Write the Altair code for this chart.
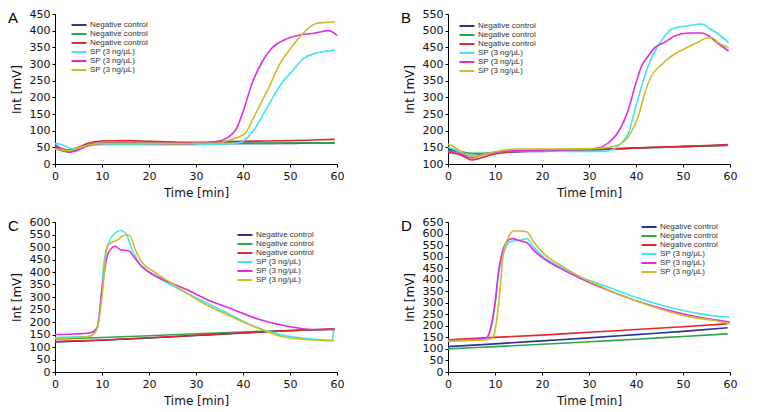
import altair as alt
import pandas as pd

# ---------------- data ----------------
SERIES_IDS = ["neg1", "neg2", "neg3", "sp1", "sp2", "sp3"]
SERIES_COLORS = ["#2e3192", "#2ca84a", "#e0282e", "#3fe6ee", "#e02ce0", "#c9bf2a"]
X_TICKS = [0, 10, 20, 30, 40, 50, 60]

# Panel A
A_CTRL_T = [0, 1.5, 3, 5, 7, 10, 15, 20, 25, 30, 35, 40, 45, 50, 55, 59.5]
A_NEG1_V = [55, 45, 40, 48, 58, 63, 64, 62, 61, 62, 62, 62, 62, 62, 63, 63]
A_NEG2_V = [45, 40, 36, 46, 56, 61, 62, 61, 61, 61, 62, 62, 62, 63, 63, 64]
A_NEG3_V = [50, 45, 42, 50, 62, 69, 70, 68, 66, 65, 67, 68, 69, 70, 72, 74]
A_SP1_T = [0, 1.5, 2.5, 3.5, 5, 7, 10, 15, 20, 25, 30, 35, 38, 39.6, 41, 42.5, 45.4, 48.2, 50.4, 52.9, 55.4, 57.5, 59.6]
A_SP1_V = [62, 58, 52, 45, 48, 55, 58, 58, 58, 57, 58, 60, 62, 65, 80, 106, 176, 242, 277, 317, 332, 338, 342]
A_SP2_T = [0, 1.5, 3, 5, 7, 10, 15, 20, 25, 30, 33, 34.6, 36.8, 38.6, 40, 41.8, 44.3, 46.1, 48.9, 51.8, 55.4, 58.2, 60]
A_SP2_V = [58, 45, 35, 42, 55, 62, 63, 62, 61, 62, 64, 68, 80, 106, 156, 237, 312, 347, 373, 386, 393, 400, 386]
A_SP3_T = [0, 1.5, 3, 5, 7, 10, 15, 20, 25, 30, 35, 36.2, 38.5, 40.4, 42.5, 45.4, 47.9, 50.4, 52.5, 55.4, 57.5, 59.6]
A_SP3_V = [45, 42, 40, 48, 57, 62, 62, 62, 61, 62, 63, 68, 78, 91, 146, 227, 302, 352, 388, 421, 425, 426]

# Panel B
B_CTRL_T = [0, 2, 3.5, 5, 7, 10, 15, 20, 25, 30, 35, 40, 45, 50, 55, 59.5]
B_NEG1_V = [145, 138, 130, 125, 128, 133, 137, 138, 140, 142, 145, 148, 150, 152, 154, 156]
B_NEG2_V = [140, 137, 135, 132, 132, 135, 138, 140, 141, 143, 145, 148, 150, 152, 154, 157]
B_NEG3_V = [135, 130, 122, 112, 118, 130, 138, 140, 141, 143, 145, 148, 151, 153, 155, 158]
B_SP1_T = [0, 2, 4, 6, 8, 10, 15, 20, 25, 30, 33, 35, 36.9, 38.4, 39.8, 41.2, 42.6, 44.7, 46.2, 47.6, 51.1, 54, 55.8, 57.5, 59.7]
B_SP1_V = [150, 140, 128, 125, 130, 135, 140, 140, 138, 138, 138, 143, 163, 193, 264, 334, 394, 454, 485, 505, 515, 520, 505, 490, 464]
B_SP2_T = [0, 2, 3.5, 5, 7, 10, 15, 20, 25, 30, 32, 34.1, 36.9, 38.4, 39.8, 41.2, 42.6, 44, 46.2, 48.3, 51.1, 54, 55.4, 56.8, 58.2, 59.7]
B_SP2_V = [138, 132, 125, 118, 125, 135, 140, 142, 143, 145, 148, 163, 213, 264, 334, 394, 424, 449, 466, 485, 493, 493, 485, 469, 454, 439]
B_SP3_T = [0, 2, 4, 6, 8, 10, 15, 20, 25, 30, 33, 35.5, 38.4, 40.5, 41.9, 43.3, 45.5, 47.6, 50.4, 53.3, 55.1, 56.2, 57.5, 59.7]
B_SP3_V = [160, 145, 128, 122, 128, 137, 145, 145, 145, 146, 148, 153, 183, 244, 314, 364, 399, 424, 446, 466, 478, 478, 464, 449]

# Panel C
C_CTRL_T = [0, 10, 20, 30, 40, 50, 59.5]
C_NEG1_V = [120, 127, 136, 146, 156, 165, 172]
C_NEG2_V = [132, 138, 145, 153, 160, 166, 170]
C_NEG3_V = [122, 128, 137, 147, 157, 166, 172]
C_SP1_T = [0, 4, 7, 8, 9, 9.7, 10.4, 11.4, 12.8, 13.9, 15, 16.4, 18.1, 20.9, 25.2, 30.8, 36.5, 42.1, 47.8, 52, 56.2, 59, 59.3]
C_SP1_V = [138, 140, 142, 150, 183, 277, 436, 516, 556, 566, 556, 489, 430, 390, 343, 290, 237, 184, 150, 137, 130, 128, 170]
C_SP2_T = [0, 4, 7, 8, 9, 10, 11.1, 12.1, 12.8, 13.9, 15.7, 16.7, 18.1, 20.3, 23.8, 28, 32.3, 37.9, 43.5, 49.2, 54.8, 59.4]
C_SP2_V = [150, 152, 155, 160, 177, 330, 463, 496, 503, 489, 485, 463, 430, 396, 363, 330, 290, 250, 210, 184, 170, 170]
C_SP3_T = [0, 4, 7, 8, 9, 10, 11.1, 12.1, 13.2, 14.3, 15.3, 16, 17.1, 18.5, 20.9, 25.2, 30.8, 36.5, 42.1, 47.8, 53.4, 59.4]
C_SP3_V = [132, 138, 142, 148, 175, 300, 503, 519, 527, 543, 549, 543, 489, 439, 403, 350, 283, 230, 184, 144, 130, 124]

# Panel D
D_CTRL_T = [0, 10, 20, 30, 40, 50, 59.5]
D_NEG1_V = [110, 122, 135, 148, 162, 176, 192]
D_NEG2_V = [100, 110, 120, 131, 142, 154, 165]
D_NEG3_V = [140, 150, 160, 172, 184, 196, 209]
D_SP1_T = [0, 4, 8, 9, 10, 10.8, 11.8, 13.2, 15.4, 16.8, 18.2, 20.3, 23.9, 28.1, 33.8, 39.4, 45.1, 50.8, 56.4, 59.8]
D_SP1_V = [133, 138, 143, 180, 290, 430, 514, 564, 571, 578, 542, 499, 456, 413, 370, 327, 291, 263, 244, 238]
D_SP2_T = [0, 4, 8, 9, 10, 10.8, 11.5, 12.5, 13.6, 15.4, 16.8, 18.2, 20.3, 23.9, 28.1, 33.8, 39.4, 45.1, 50.8, 56.4, 60]
D_SP2_V = [138, 140, 145, 184, 298, 442, 514, 564, 578, 568, 560, 528, 492, 449, 406, 356, 313, 277, 248, 227, 217]
D_SP3_T = [0, 4, 8, 9, 9.7, 10.8, 11.8, 12.9, 14, 15.4, 16.8, 18.2, 20.3, 23.9, 28.1, 33.8, 39.4, 45.1, 50.8, 56.4, 60]
D_SP3_V = [133, 136, 140, 143, 155, 298, 514, 585, 611, 611, 607, 564, 514, 463, 413, 359, 313, 273, 241, 224, 209]

PANELS = [
    ("A", 0, 450, [(A_CTRL_T, A_NEG1_V), (A_CTRL_T, A_NEG2_V), (A_CTRL_T, A_NEG3_V),
                   (A_SP1_T, A_SP1_V), (A_SP2_T, A_SP2_V), (A_SP3_T, A_SP3_V)], (20, 7)),
    ("B", 100, 550, [(B_CTRL_T, B_NEG1_V), (B_CTRL_T, B_NEG2_V), (B_CTRL_T, B_NEG3_V),
                     (B_SP1_T, B_SP1_V), (B_SP2_T, B_SP2_V), (B_SP3_T, B_SP3_V)], (15, 8)),
    ("C", 0, 600, [(C_CTRL_T, C_NEG1_V), (C_CTRL_T, C_NEG2_V), (C_CTRL_T, C_NEG3_V),
                   (C_SP1_T, C_SP1_V), (C_SP2_T, C_SP2_V), (C_SP3_T, C_SP3_V)], (186, 9)),
    ("D", 0, 650, [(D_CTRL_T, D_NEG1_V), (D_CTRL_T, D_NEG2_V), (D_CTRL_T, D_NEG3_V),
                   (D_SP1_T, D_SP1_V), (D_SP2_T, D_SP2_V), (D_SP3_T, D_SP3_V)], (197, 1)),
]

FONT = "DejaVu Sans"
LEG_FONT = "Liberation Sans"
W, H = 282, 150


def panel(letter, ymin, ymax, series, legpos):
    rows = []
    for sid, (ts, vs) in zip(SERIES_IDS, series):
        for t, v in zip(ts, vs):
            rows.append({"t": t, "v": v, "s": sid})
    df = pd.DataFrame(rows)
    lines = alt.Chart(df).mark_line(strokeWidth=1.6, interpolate="monotone").encode(
        x=alt.X("t:Q", scale=alt.Scale(domain=[0, 60], nice=False),
                axis=alt.Axis(values=X_TICKS, title="Time [min]", grid=False,
                              tickSize=3, labelPadding=3, titlePadding=6,
                              labelFlush=False, labelOverlap=False,
                              domainColor="black", tickColor="black")),
        y=alt.Y("v:Q", scale=alt.Scale(domain=[ymin, ymax], nice=False, zero=False),
                axis=alt.Axis(values=list(range(ymin, ymax + 1, 50)), title="Int [mV]",
                              grid=False, tickSize=3, labelPadding=2, titlePadding=6,
                              labelFlush=False, labelOverlap=False,
                              domainColor="black", tickColor="black")),
        color=alt.Color("s:N", scale=alt.Scale(domain=SERIES_IDS, range=SERIES_COLORS),
                        legend=alt.Legend(
                            title=None, orient="none", legendX=legpos[0], legendY=legpos[1],
                            symbolType="M-2.5,0L2.5,0", symbolSize=36, symbolStrokeWidth=2,
                            labelFontSize=8, labelColor="#333333", labelFont=LEG_FONT,
                            rowPadding=1, labelOffset=7, padding=0,
                            labelExpr="indexof(datum.label, 'neg') >= 0 ? 'Negative control' : 'SP (3 ng/\u00b5L)'")),
    )
    tag = alt.Chart(alt.Data(values=[{"p": letter}])).mark_text(
        align="left", baseline="alphabetic", fontSize=15, font="Liberation Sans", color="black"
    ).encode(text="p:N", x=alt.value(-47), y=alt.value(9))
    return alt.layer(lines, tag).properties(width=W, height=H)


charts = [panel(*p) for p in PANELS]

chart = alt.concat(*charts, columns=2, spacing={"row": 58, "column": 111}, bounds="flush").resolve_scale(
    color="independent", x="independent", y="independent"
).resolve_legend(color="independent").properties(
    padding={"left": 0, "top": 0, "right": 5, "bottom": 0}
).configure_view(stroke=None).configure_axis(
    labelFont=FONT, titleFont=FONT, labelFontSize=11, titleFontSize=12,
    titleFontWeight="normal", labelColor="#111111", titleColor="#111111"
)

chart.save("out.html", embed_options={"renderer": "svg", "actions": False})
